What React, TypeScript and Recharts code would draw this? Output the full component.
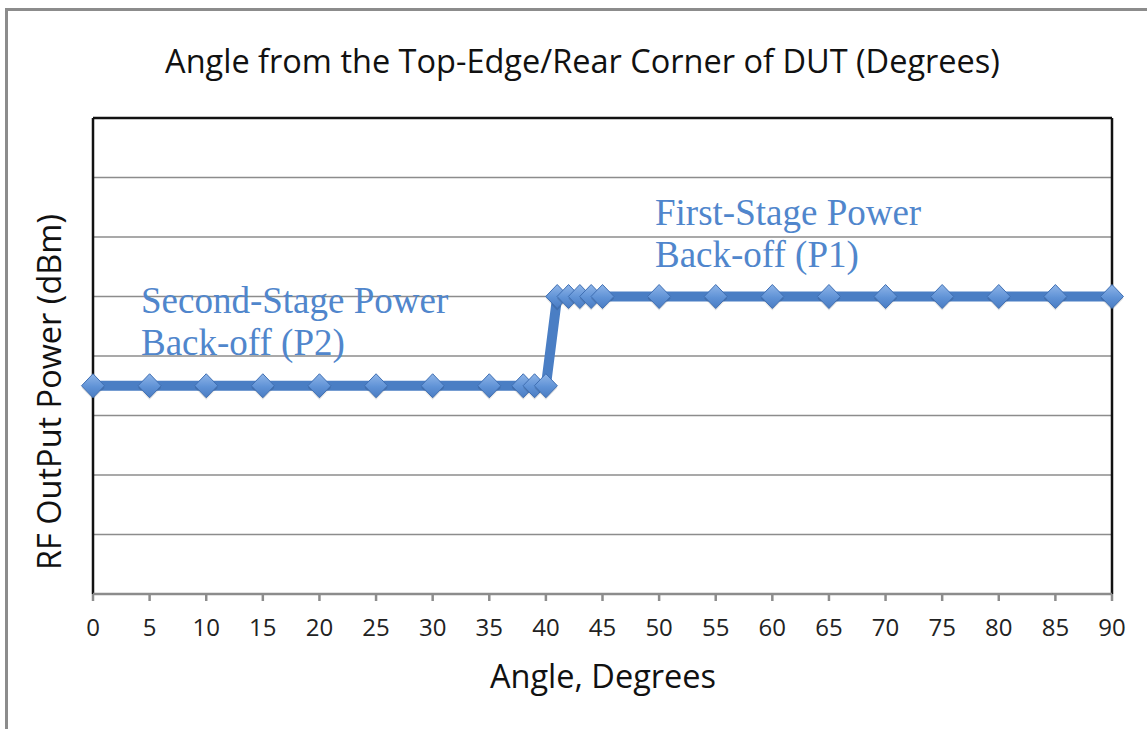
import React from 'react';
import { LineChart, Line, XAxis, YAxis, CartesianGrid, ReferenceLine } from 'recharts';

const angles = [0, 5, 10, 15, 20, 25, 30, 35, 38, 39, 40, 41, 42, 43, 44, 45, 50, 55, 60, 65, 70, 75, 80, 85, 90];
const power = [3.5, 3.5, 3.5, 3.5, 3.5, 3.5, 3.5, 3.5, 3.5, 3.5, 3.5, 5, 5, 5, 5, 5, 5, 5, 5, 5, 5, 5, 5, 5, 5];
const xTicks = [0, 5, 10, 15, 20, 25, 30, 35, 40, 45, 50, 55, 60, 65, 70, 75, 80, 85, 90];
const yTicks = [0, 1, 2, 3, 4, 5, 6, 7, 8];

const data = angles.map((a, i) => ({ angle: a, power: power[i] }));

const font = '"Open Sans", "Noto Sans", sans-serif';
const blue = '#4a7ec4';

const Diamond = (props: any) => {
    const { cx, cy } = props;
    if (cx == null || cy == null) return null;
    const w = 11.5;
    const h = 12;
    return (
        <g>
            <polygon
                points={`${cx},${cy - h + 2} ${cx + w},${cy + 2} ${cx},${cy + h + 2} ${cx - w},${cy + 2}`}
                fill="rgba(0,0,0,0.12)"
            />
            <polygon
                points={`${cx},${cy - h} ${cx + w},${cy} ${cx},${cy + h} ${cx - w},${cy}`}
                fill="url(#diamondFill)"
                stroke="#3f6fb3"
                strokeWidth={1}
            />
        </g>
    );
};

const App: React.FC = () => {
    return (
        <div style={{ position: 'absolute', left: 0, top: 0, width: 1147, height: 729, background: '#fff', overflow: 'hidden' }}>
            {/* outer frame */}
            <div style={{
                position: 'absolute', left: 5, top: 8, width: 1160, height: 760,
                borderLeft: '3px solid #8c8c8c', borderTop: '3px solid #8c8c8c'
            }} />
            <LineChart
                width={1147}
                height={729}
                data={data}
                margin={{ top: 118, right: 35, bottom: 105, left: 93 }}
                style={{ position: 'absolute', left: 0, top: 0 }}
            >
                <defs>
                    <linearGradient id="diamondFill" x1="0" y1="0" x2="0" y2="1">
                        <stop offset="0%" stopColor="#8fb5e8" />
                        <stop offset="55%" stopColor="#5f92d6" />
                        <stop offset="100%" stopColor="#4a7cc2" />
                    </linearGradient>
                </defs>
                <CartesianGrid vertical={false} stroke="#8c8c8c" strokeWidth={1.5} />
                <XAxis
                    dataKey="angle"
                    type="number"
                    domain={[0, 90]}
                    ticks={xTicks}
                    interval={0}
                    stroke="#8c8c8c"
                    strokeWidth={2.5}
                    tickSize={7}
                    tickLine={{ stroke: '#8c8c8c', strokeWidth: 2.5 }}
                    tick={{ fill: '#222', fontSize: 24, fontFamily: font }}
                    tickMargin={18}
                />
                <YAxis hide domain={[0, 8]} ticks={yTicks} />
                <ReferenceLine x={0} stroke="#111" strokeWidth={2.5} />
                <ReferenceLine x={90} stroke="#111" strokeWidth={2.5} />
                <ReferenceLine y={8} stroke="#111" strokeWidth={2.5} />
                <Line
                    type="linear"
                    dataKey="power"
                    stroke={blue}
                    strokeWidth={10}
                    dot={<Diamond />}
                    activeDot={false}
                    isAnimationActive={false}
                />
            </LineChart>

            <div style={{
                position: 'absolute', left: 0, width: 1165, top: 38, textAlign: 'center',
                fontFamily: font, fontSize: 32.5, color: '#111', whiteSpace: 'nowrap'
            }}>
                Angle from the Top-Edge/Rear Corner of DUT (Degrees)
            </div>
            <div style={{
                position: 'absolute', left: 0, width: 1206, top: 653, textAlign: 'center',
                fontFamily: font, fontSize: 32.5, color: '#111', whiteSpace: 'nowrap'
            }}>
                Angle, Degrees
            </div>
            <div style={{
                position: 'absolute', left: 48, top: 392, width: 0, height: 0
            }}>
                <div style={{
                    position: 'absolute', left: 0, top: 0, transform: 'translate(-50%, -50%) rotate(-90deg)',
                    fontFamily: font, fontSize: 32.5, color: '#111', whiteSpace: 'nowrap'
                }}>
                    RF OutPut Power (dBm)
                </div>
            </div>

            <div style={{
                position: 'absolute', left: 655, top: 192, fontFamily: '"Liberation Serif", serif',
                fontSize: 37, lineHeight: '42px', color: '#5086cc', whiteSpace: 'nowrap'
            }}>
                First-Stage Power<br />Back-off (P1)
            </div>
            <div style={{
                position: 'absolute', left: 141, top: 280, fontFamily: '"Liberation Serif", serif',
                fontSize: 37, lineHeight: '42px', color: '#5086cc', whiteSpace: 'nowrap'
            }}>
                Second-Stage Power<br />Back-off (P2)
            </div>
        </div>
    );
};

export default App;
